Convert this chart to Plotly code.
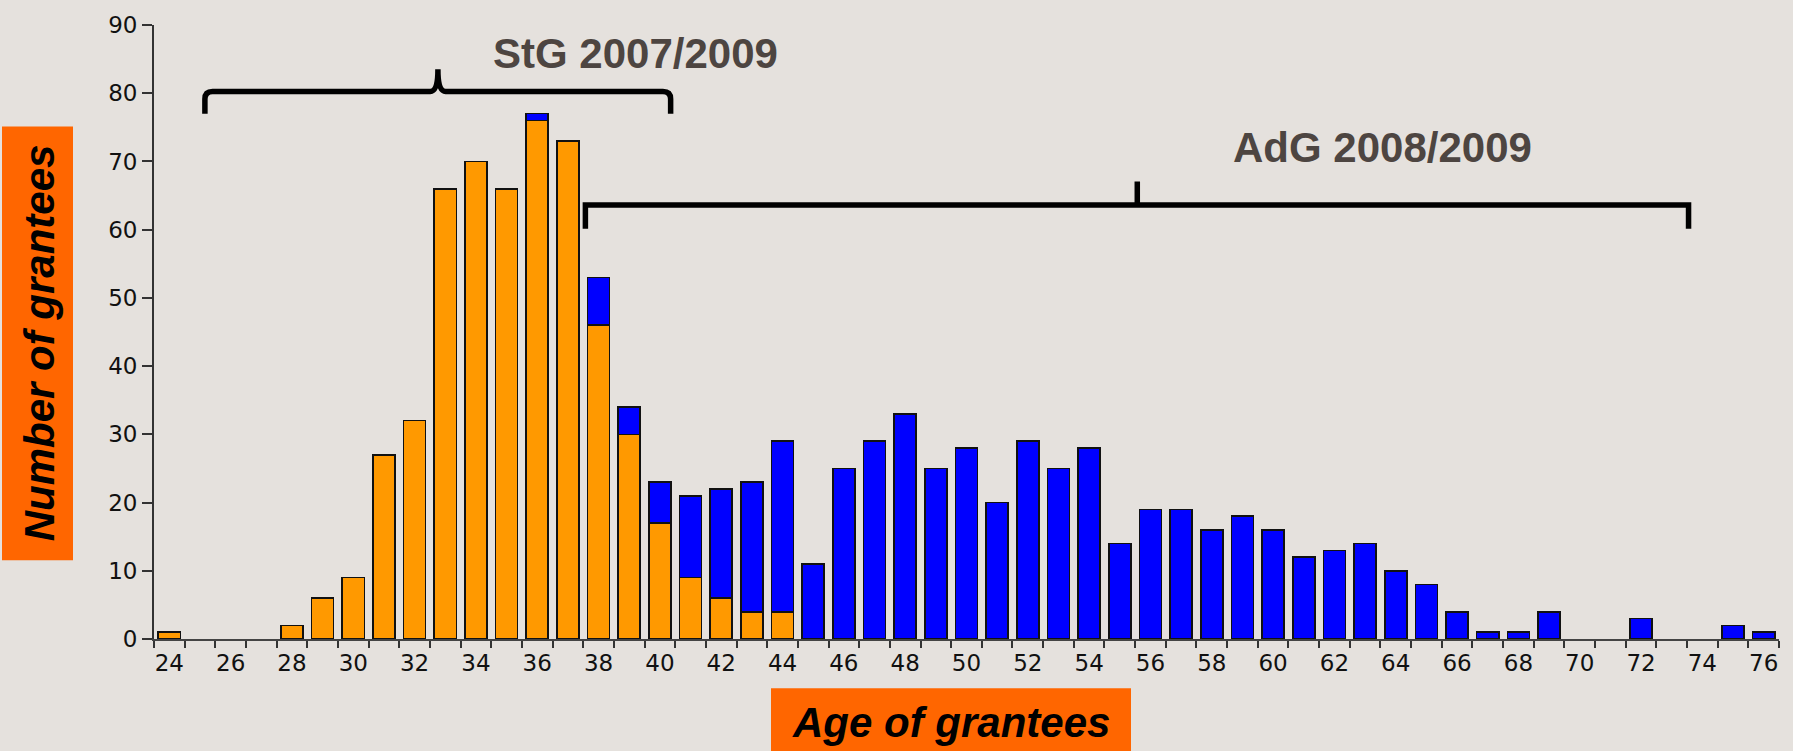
import plotly.graph_objects as go

# ---- data ----
ages = list(range(24, 77))
stg = [1, 0, 0, 0, 2, 6, 9, 27, 32, 66, 70, 66, 76, 73, 46, 30, 17, 9, 6, 4, 4] + [0] * 32
adg_total = [1, 0, 0, 0, 2, 6, 9, 27, 32, 66, 70, 66, 77, 73, 53, 34, 23, 21, 22, 23, 29,
             11, 25, 29, 33, 25, 28, 20, 29, 25, 28, 14, 19, 19, 16, 18, 16, 12, 13, 14, 10,
             8, 4, 1, 1, 4, 0, 0, 3, 0, 0, 2, 1]
adg = [t - s for t, s in zip(adg_total, stg)]
x_tick_labels = [str(a) for a in range(24, 77, 2)]
y_ticks = list(range(0, 91, 10))

# empty bars are not drawn at all
stg_plot = [v if v else None for v in stg]
adg_plot = [v if v else None for v in adg]

BG = "#E5E1DD"
ORANGE = "#FF9900"
BLUE = "#0000FF"
LABEL_BOX = "#FF6600"
TXT = "#4D4541"

fig = go.Figure()
fig.add_trace(go.Bar(x=ages, y=stg_plot, name="StG", marker=dict(color=ORANGE, line=dict(color="#111111", width=1.6))))
fig.add_trace(go.Bar(x=ages, y=adg_plot, name="AdG", marker=dict(color=BLUE, line=dict(color="#111111", width=1.6))))

W, H = 1793, 751
ML, MR, MT, MB = 154, 14, 16, 112

fig.update_layout(
    width=W, height=H,
    margin=dict(l=ML, r=MR, t=MT, b=MB),
    barmode="stack", bargap=0.28,
    paper_bgcolor=BG, plot_bgcolor=BG,
    showlegend=False,
    font=dict(family="DejaVu Sans", color="#111111"),
)
fig.update_xaxes(
    range=[23.5, 76.5], tickvals=list(range(24, 77, 2)), ticktext=x_tick_labels,
    ticks="outside", ticklen=2, tickcolor="rgba(0,0,0,0)",
    minor=dict(ticks="outside", tick0=23.5, dtick=1, ticklen=7, tickcolor="#333333", tickwidth=1.5),
    showline=True, linecolor="#444444", linewidth=1.8, showgrid=False, zeroline=False,
    tickfont=dict(family="DejaVu Sans", size=23, color="#111111"),
)
fig.update_yaxes(
    range=[0, 90], tickvals=y_ticks, ticks="outside", ticklen=10, tickcolor="#333333", tickwidth=1.5,
    showline=True, linecolor="#333333", linewidth=1.8, showgrid=False, zeroline=False,
    tickfont=dict(family="DejaVu Sans", size=23, color="#111111"),
)

# brackets (data coordinates)
def brace(x0, xm, x1, yl, yb, yt, rx, ry, rounded=True):
    if rounded:
        return (f"M {x0},{yb} L {x0},{yl - ry} Q {x0},{yl} {x0 + rx},{yl} "
                f"L {xm - rx},{yl} Q {xm},{yl} {xm},{yt} Q {xm},{yl} {xm + rx},{yl} "
                f"L {x1 - rx},{yl} Q {x1},{yl} {x1},{yl - ry} L {x1},{yb}")
    return (f"M {x0},{yb} L {x0},{yl} L {x1},{yl} L {x1},{yb} "
            f"M {xm},{yl} L {xm},{yt}")

fig.add_shape(type="path", xref="x", yref="y",
              path=brace(25.16, 32.76, 40.35, 80.25, 77.0, 83.5, 0.25, 1.1),
              line=dict(color="black", width=5.5))
fig.add_shape(type="path", xref="x", yref="y",
              path=brace(37.57, 55.57, 73.55, 63.6, 60.15, 67.05, 0, 0, rounded=False),
              line=dict(color="black", width=5.5))

fig.add_annotation(x=39.2, y=85.8, xref="x", yref="y", text="<b>StG 2007/2009</b>", showarrow=False,
                   xanchor="center", yanchor="middle",
                   font=dict(family="Liberation Sans", size=42, color=TXT))
fig.add_annotation(x=63.58, y=72.1, xref="x", yref="y", text="<b>AdG 2008/2009</b>", showarrow=False,
                   xanchor="center", yanchor="middle",
                   font=dict(family="Liberation Sans", size=42, color=TXT))

# axis title boxes
pw, ph = W - ML - MR, H - MT - MB
def px(xp):
    return (xp - ML) / pw
def py(yp):
    return (H - MB - yp) / ph

fig.add_shape(type="rect", xref="paper", yref="paper", x0=px(2), x1=px(73), y0=py(559), y1=py(119),
              fillcolor=LABEL_BOX, line=dict(width=0), layer="below")
fig.add_annotation(xref="paper", yref="paper", x=px(39), y=py(339), text="<b><i>Number of grantees</i></b>",
                   textangle=-90, showarrow=False, xanchor="center", yanchor="middle",
                   font=dict(family="Liberation Sans", size=42, color="black"))
fig.add_shape(type="rect", xref="paper", yref="paper", x0=px(771), x1=px(1131), y0=py(760), y1=py(689),
              fillcolor=LABEL_BOX, line=dict(width=0), layer="below")
fig.add_annotation(xref="paper", yref="paper", x=px(951), y=py(724), text="<b><i>Age of grantees</i></b>",
                   showarrow=False, xanchor="center", yanchor="middle",
                   font=dict(family="Liberation Sans", size=42, color="black"))

fig.write_html("out.html", config={"displayModeBar": False})

# remove the page margin so the figure fills the window exactly
with open("out.html", encoding="utf-8") as f:
    html = f.read()
html = html.replace("<head>", "<head><style>html,body{margin:0;padding:0;overflow:hidden;}</style>", 1)
with open("out.html", "w", encoding="utf-8") as f:
    f.write(html)
